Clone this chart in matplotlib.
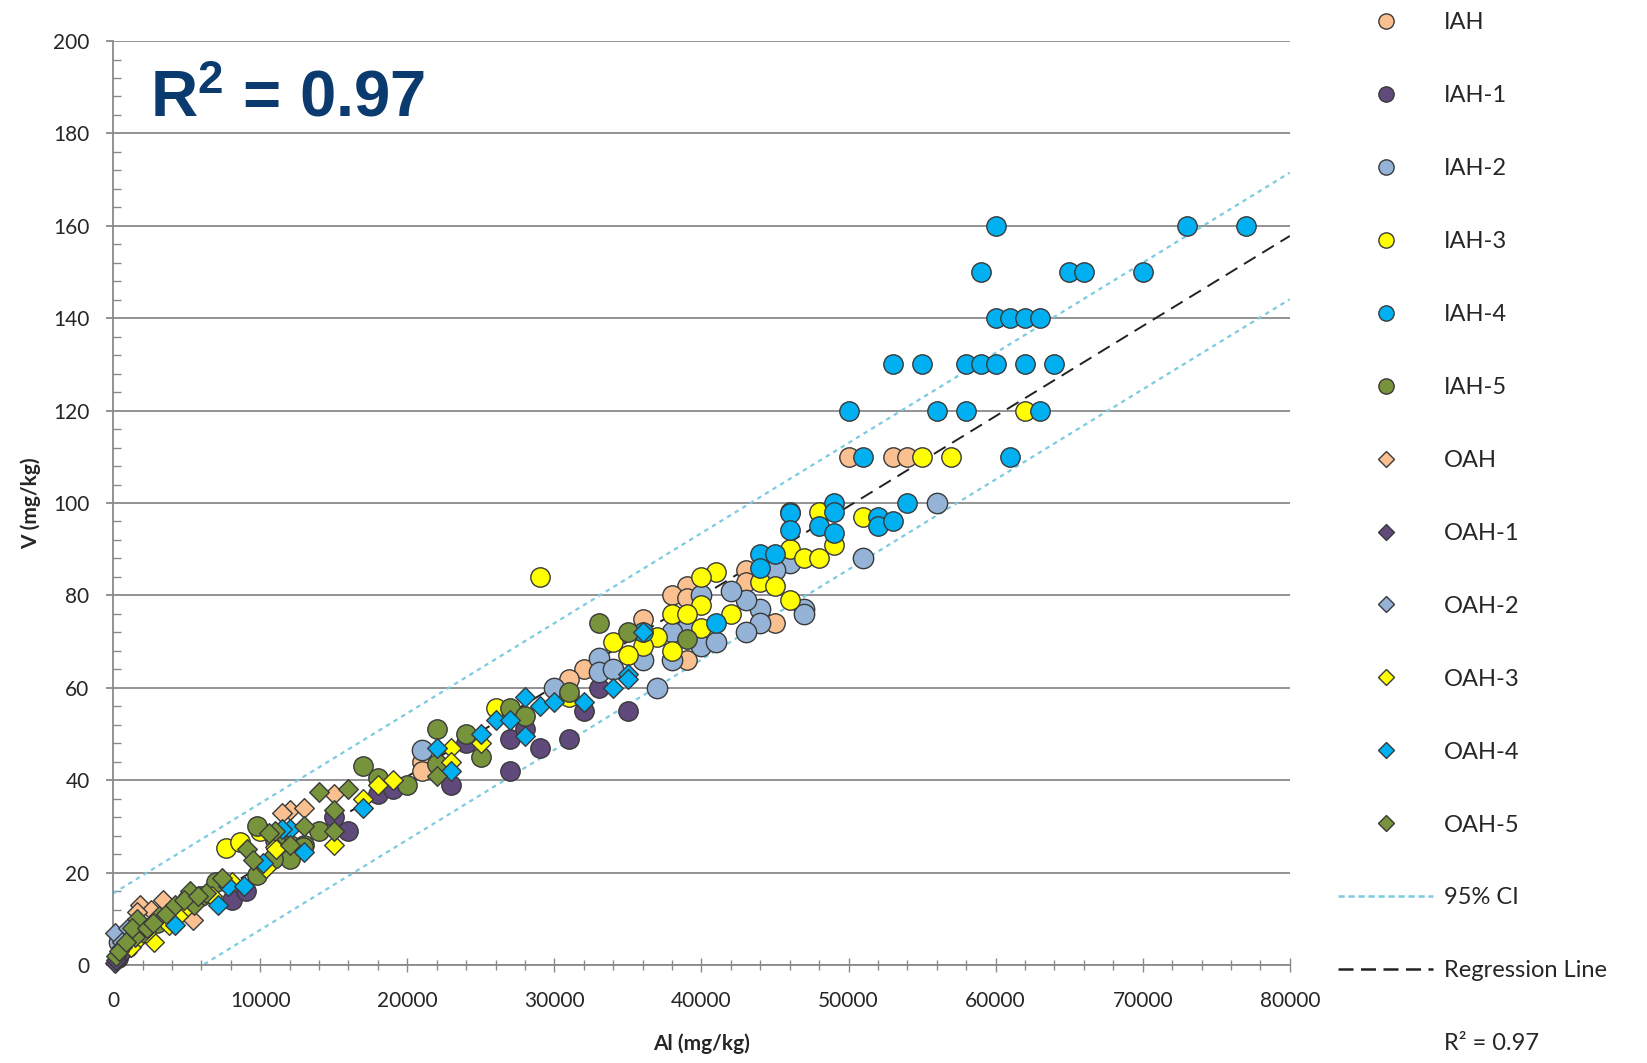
import numpy as np
import matplotlib
matplotlib.use('Agg')
import matplotlib.pyplot as plt
from matplotlib.lines import Line2D
from matplotlib.ticker import MultipleLocator

# ---- data (Al mg/kg, V mg/kg) ----
iah_al = [50000, 53000, 54000, 43000, 43000, 39000, 38000, 39000, 39000, 45000, 36000, 32000, 31000, 21000, 21000]
iah_v = [110, 110, 110, 85.5, 83, 82, 80, 79.5, 66, 74, 75, 64, 62, 44, 42]

iah1_al = [23000, 27000, 27000, 28000, 29000, 31000, 32000, 35000, 33000, 18000, 19000, 15000, 16000, 8100, 9000, 24000, 300]
iah1_v = [39, 42, 49, 51, 47, 49, 55, 55, 60, 37, 38, 32, 29, 14, 16, 48, 1.5]

iah2_al = [56000, 51000, 47000, 47000, 46000, 45000, 44000, 44000, 43000, 43000, 42000, 40000, 38000, 37000,
           33000, 33000, 34000, 30000, 21000, 400, 39000, 38000, 41000, 36000, 40000]
iah2_v = [100, 88, 77, 76, 87, 85.5, 77, 74, 79, 72, 81, 69, 66, 60,
          66.5, 63.5, 64, 60, 46.5, 5, 73, 72, 70, 66, 80]

iah3_al = [29000, 62000, 55000, 57000, 51000, 48000, 46000, 49000, 46000, 47000, 48000, 44000, 45000, 46000,
           41000, 40000, 40000, 38000, 39000, 40000, 37000, 38000, 42000, 36000, 34000, 35000, 26000, 31000,
           7700, 8600, 10000]
iah3_v = [84, 120, 110, 110, 97, 98, 98, 91, 90, 88, 88, 83, 82, 79,
          85, 84, 78, 76, 76, 73, 71, 68, 76, 69, 70, 67, 55.6, 58,
          25.3, 26.6, 29]

iah4_al = [60000, 73000, 77000, 59000, 65000, 66000, 70000, 60000, 61000, 62000, 63000,
           53000, 55000, 58000, 59000, 60000, 62000, 64000, 50000, 56000, 58000, 63000,
           51000, 61000, 54000, 49000, 46000, 46000, 49000, 48000, 49000, 52000, 52000, 53000,
           44000, 45000, 44000, 41000, 36000]
iah4_v = [160, 160, 160, 150, 150, 150, 150, 140, 140, 140, 140,
          130, 130, 130, 130, 130, 130, 130, 120, 120, 120, 120,
          110, 110, 100, 100, 97.8, 94.2, 98, 95, 93.5, 97, 95, 96,
          89, 89, 86, 74, 72]

iah5_al = [33000, 35000, 39000, 31000, 27000, 28000, 22000, 24000, 25000, 22000, 17000, 18000, 20000,
           14000, 12000, 13000, 12000, 9800, 9800, 10900, 6000, 3000, 1000, 11000, 7000, 12900, 5000]
iah5_v = [74, 72, 70.5, 59, 55.6, 54, 51, 50, 45, 43.5, 43, 40.5, 39,
          29, 26, 26, 23, 30, 19.5, 23, 15, 9, 4, 27, 18, 25.5, 14]

oah_al = [12000, 13000, 15000, 11500, 3400, 1800, 2600, 4600, 5400, 1600]
oah_v = [33.5, 34, 37, 33, 14, 13, 11.8, 12, 9.7, 11.5]

oah1_al = [100, 300, 500, 800, 200]
oah1_v = [0.5, 1.5, 2.5, 3, 1]

oah2_al = [150, 600, 1000]
oah2_v = [7, 5, 8]

oah3_al = [25000, 23000, 23000, 18000, 19000, 17000, 15000, 11000, 11100, 10400, 8100, 6700, 5000, 4400, 3800,
           2800, 1200, 1800, 2200]
oah3_v = [48, 47, 44, 39, 40, 36, 26, 25.5, 25, 21, 18, 15, 12.5, 10.5, 8.6,
          5, 4, 6, 7]

oah4_al = [36000, 35000, 35000, 34000, 28000, 29000, 30000, 32000, 26000, 27000, 28000, 25000, 22000, 23000,
           17000, 12000, 13000, 11500, 10200, 7800, 8900, 7100, 4200]
oah4_v = [72, 63, 62, 60, 58, 56, 57, 57, 53, 53, 49.5, 50, 47, 42,
          34, 29.5, 24.5, 29.5, 22, 17, 17, 13, 8.7]

oah5_al = [22000, 14000, 16000, 15000, 15000, 13000, 11000, 9100, 10600, 9500, 12000, 7400, 6300, 5200,
           5500, 3100, 2000, 1600, 1500, 600, 200, 400, 900, 1300, 2300, 2700, 3600, 4200, 4800, 5800]
oah5_v = [41, 37.5, 38, 33.5, 29, 30, 29, 25, 28.5, 22.7, 26, 18.8, 15.6, 16,
          13, 10.5, 7, 10, 6, 4, 2, 3, 5, 8, 8, 9, 11, 13, 14, 15]

# regression fit and 95% band
reg_slope = 0.00195
reg_intercept = 1.8
ci_half = 13.7
r2_text = 'R² = 0.97'

series = [
    ('IAH', iah_al, iah_v, 'o', '#FAC090'),
    ('IAH-1', iah1_al, iah1_v, 'o', '#604A7B'),
    ('IAH-2', iah2_al, iah2_v, 'o', '#95B3D7'),
    ('IAH-3', iah3_al, iah3_v, 'o', '#FFFF00'),
    ('IAH-4', iah4_al, iah4_v, 'o', '#00B0F0'),
    ('IAH-5', iah5_al, iah5_v, 'o', '#77933C'),
    ('OAH', oah_al, oah_v, 'D', '#FAC090'),
    ('OAH-1', oah1_al, oah1_v, 'D', '#604A7B'),
    ('OAH-2', oah2_al, oah2_v, 'D', '#95B3D7'),
    ('OAH-3', oah3_al, oah3_v, 'D', '#FFFF00'),
    ('OAH-4', oah4_al, oah4_v, 'D', '#00B0F0'),
    ('OAH-5', oah5_al, oah5_v, 'D', '#77933C'),
]

plt.rcParams['font.family'] = ['Lato', 'DejaVu Sans']
plt.rcParams['mathtext.fontset'] = 'custom'
plt.rcParams['mathtext.bf'] = 'Liberation Sans:bold'
plt.rcParams['mathtext.rm'] = 'Liberation Sans'
text_col = '#262626'
grid_col = '#8a8a8a'
ci_col = '#7ccbe0'

fig = plt.figure(figsize=(16.47, 10.63), dpi=100)
ax = fig.add_axes([0.0687, 0.0922, 0.7144, 0.8692])

# fit lines (behind the points)
xs = np.array([0, 80000])
ax.plot(xs, reg_slope * xs + reg_intercept + ci_half, color=ci_col, lw=1.6,
        linestyle=(0, (2, 2)), zorder=2)
ax.plot(xs, reg_slope * xs + reg_intercept - ci_half, color=ci_col, lw=1.6,
        linestyle=(0, (2, 2)), zorder=2)
ax.plot(xs, reg_slope * xs + reg_intercept, color='#222222', lw=1.4,
        linestyle=(0, (7, 4)), zorder=2)

handles = []
for name, al, v, mk, col in series:
    if mk == 'o':
        s = 215 if name == 'IAH-2' else 195
    else:
        s = 100
    ax.scatter(al, v, s=s, marker=mk, facecolor=col, edgecolor='#3a3a3a',
               linewidth=1.0, zorder=3, clip_on=False)
    handles.append(Line2D([], [], marker=mk, linestyle='none', markerfacecolor=col,
                          markeredgecolor='#3a3a3a', markeredgewidth=1.0,
                          markersize=11 if mk == 'o' else 8))

handles.append(Line2D([], [], color=ci_col, lw=1.8, linestyle=(0, (2.5, 1.5))))
handles.append(Line2D([], [], color='#222222', lw=1.8, linestyle=(0, (6, 3))))
handles.append(Line2D([], [], linestyle='none'))
labels = [s[0] for s in series] + ['95% CI', 'Regression Line', r2_text]

ax.set_xlim(0, 80000)
ax.set_ylim(0, 200)
ax.xaxis.set_major_locator(MultipleLocator(10000))
ax.xaxis.set_minor_locator(MultipleLocator(2000))
ax.yaxis.set_major_locator(MultipleLocator(20))
ax.yaxis.set_minor_locator(MultipleLocator(4))

ax.grid(axis='y', which='major', color=grid_col, linewidth=1.3, zorder=0)
ax.set_axisbelow(True)
for side in ['top', 'right']:
    ax.spines[side].set_visible(False)
for side in ['left', 'bottom']:
    ax.spines[side].set_color(grid_col)
    ax.spines[side].set_linewidth(1.3)

ax.tick_params(axis='y', which='major', direction='out', length=5, width=1.3,
               color=grid_col, pad=12, labelsize=15, labelcolor=text_col)
ax.tick_params(axis='y', which='minor', direction='in', length=6, width=1.0, color=grid_col)
ax.tick_params(axis='x', which='major', direction='inout', length=10, width=1.0,
               color=grid_col, pad=14, labelsize=15, labelcolor=text_col)
ax.tick_params(axis='x', which='minor', direction='inout', length=7, width=1.0, color=grid_col)

ax.set_xlabel('Al (mg/kg)', fontsize=15, fontweight='bold', color=text_col, labelpad=16)
ax.set_ylabel('V (mg/kg)', fontsize=15, fontweight='bold', color=text_col, labelpad=9)

fig.text(0.091, 0.890, r'$\mathbf{R^2}$ = 0.97', fontsize=47, fontweight='bold', color='#0B3A6F',
         family='Liberation Sans', va='baseline', ha='left')

fig.legend(handles, labels, loc='upper left', bbox_to_anchor=(0.8098, 0.993),
           frameon=False, fontsize=17, handlelength=4.0, handletextpad=0.45,
           labelspacing=2.2, borderpad=0.2, borderaxespad=0, labelcolor=text_col)

fig.savefig('out.png', dpi=100)
